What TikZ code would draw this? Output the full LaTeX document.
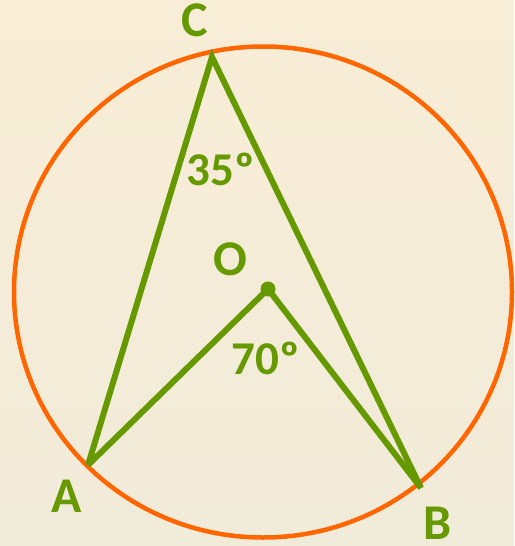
\documentclass[tikz,border=0pt]{standalone}
\usepackage{fontspec}
\setmainfont{Carlito}
\definecolor{grn}{RGB}{102,153,0}
\definecolor{org}{RGB}{255,102,0}
\definecolor{bgtop}{RGB}{248,237,214}
\definecolor{bgbot}{RGB}{241,235,217}
\begin{document}
\begin{tikzpicture}[x=1pt,y=-1pt,
  seg/.style={draw=grn,line width=6pt},
  lbl/.style={text=grn,font=\fontsize{50}{50}\selectfont\bfseries,inner sep=0pt,text depth=0pt},
  ang/.style={text=grn,font=\fontsize{47}{47}\selectfont\bfseries,inner sep=0pt}]
\path[use as bounding box,top color=bgtop,bottom color=bgbot] (0,0) rectangle (514,546);
\coordinate (A) at (88,465);
\coordinate (B) at (421,488);
\coordinate (C) at (212,57);
\coordinate (O) at (268,289);
\draw[org,line width=4.5pt] (263,292) ellipse [x radius=249, y radius=245.5];
\draw[seg] (A) -- (C) -- (B);
\draw[seg] (A) -- (O) -- (B);
\fill[grn] (O) circle (7.5);
\node[lbl] (lC) at (195,20) {C};
\node[lbl] (lA) at (67,496) {A};
\node[lbl] (lB) at (438,523) {B};
\node[lbl] (lO) at (230,259) {O};
\node[ang] (a35) at (220.5,169) {35º};
\node[ang] (a70) at (265.5,358) {70º};
\end{tikzpicture}
\end{document}
